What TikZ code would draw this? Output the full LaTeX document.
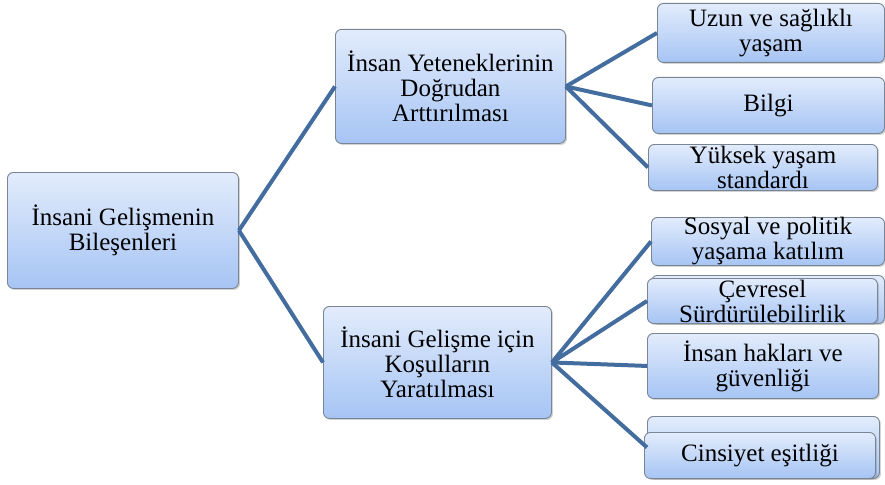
\documentclass[tikz,border=0pt]{standalone}
\usepackage{fontspec}
\setmainfont{Liberation Serif}
\newfontfamily\boxfont{Liberation Serif}
\usetikzlibrary{shadows}
\definecolor{topc}{HTML}{E2ECFC}
\definecolor{botc}{HTML}{A6C4F4}
\definecolor{edgec}{HTML}{7A8594}
\definecolor{linkc}{HTML}{436C9F}
\tikzset{
  box/.style={rectangle, rounded corners=6pt, draw=edgec, line width=0.9pt,
    top color=topc, bottom color=botc, align=center, inner sep=0pt,
    font=\boxfont\fontsize{25}{25}\selectfont,
    drop shadow={shadow xshift=1.5pt, shadow yshift=-1.5pt, opacity=0.35},
    anchor=north west},
  link/.style={draw=linkc, line width=4pt}
}
\begin{document}
\begin{tikzpicture}[x=1pt,y=-1pt]
\useasboundingbox (0,0) rectangle (885,484);
% root and middle
\node[box, minimum width=231pt, minimum height=116pt] (root) at (7,172) {İnsani Gelişmenin\\Bileşenleri};
\node[box, minimum width=230pt, minimum height=114pt] (m1) at (335,29) {İnsan Yeteneklerinin\\Doğrudan\\Arttırılması};
\node[box, minimum width=228pt, minimum height=112pt] (m2) at (323,306) {İnsani Gelişme için\\Koşulların\\Yaratılması};
% leaves of m1
\node[box, minimum width=227pt, minimum height=59pt] (l1) at (657,3) {Uzun ve sağlıklı\\yaşam};
\node[box, minimum width=232pt, minimum height=56pt] (l2) at (652,77) {Bilgi};
\node[box, minimum width=229pt, minimum height=46pt] (l3) at (648,144) {Yüksek yaşam\\standardı};
% leaves of m2
\node[box, minimum width=233pt, minimum height=48pt] (k1) at (651,217) {Sosyal ve politik\\yaşama katılım};
\node[box, minimum width=233pt, minimum height=48pt] (k2b) at (651,275) {};
\node[box, minimum width=230pt, minimum height=45pt] (k2) at (647,278) {Çevresel\\Sürdürülebilirlik};
\node[box, minimum width=231pt, minimum height=65pt] (k3) at (647,333) {İnsan hakları ve\\güvenliği};
\node[box, minimum width=232pt, minimum height=62pt] (k4b) at (647,416) {};
\node[box, minimum width=231pt, minimum height=46pt] (k4) at (644,432) {Cinsiyet eşitliği};
% connectors
\draw[link] (root.east) -- (m1.west);
\draw[link] (root.east) -- (m2.west);
\draw[link] (m1.east) -- (l1.west);
\draw[link] (m1.east) -- (l2.west);
\draw[link] (m1.east) -- (l3.west);
\draw[link] (m2.east) -- (k1.west);
\draw[link] (m2.east) -- (k2.west);
\draw[link] (m2.east) -- (k3.west);
\draw[link] (m2.east) -- (k4b.west);
\end{tikzpicture}
\end{document}
